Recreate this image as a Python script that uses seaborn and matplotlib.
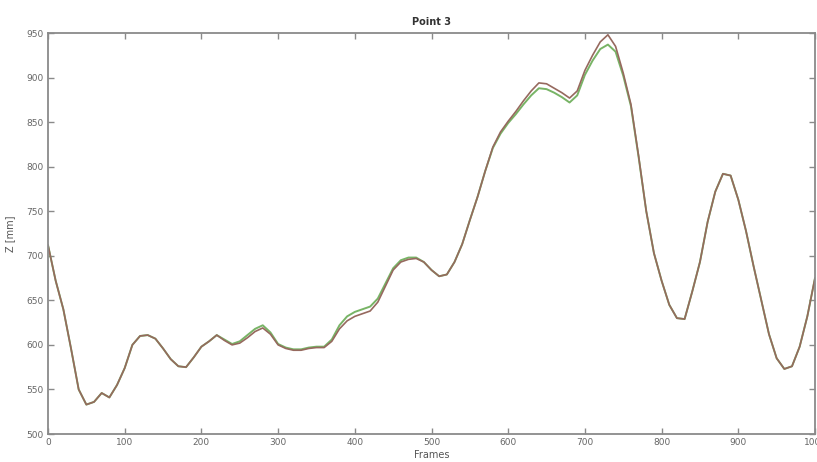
import numpy as np
import pandas as pd
import matplotlib
matplotlib.use("Agg")
import matplotlib.pyplot as plt
import seaborn as sns

# Frame index sampled every 10 frames
frames = list(range(0, 1001, 10))

# Z coordinate of point 3 [mm], first trajectory (red)
z_red = [712, 672, 640, 596, 550, 533, 536, 546, 541, 555,
         574, 600, 610, 611, 607, 596, 584, 576, 575, 586,
         598, 604, 611, 605, 600, 602, 608, 615, 619, 612,
         600, 596, 594, 594, 596, 597, 597, 604, 618, 627,
         632, 635, 638, 648, 666, 684, 693, 696, 697, 693,
         684, 677, 679, 693, 713, 740, 766, 795, 822, 839,
         851, 862, 874, 885, 894, 893, 888, 883, 877, 885,
         908, 925, 940, 948, 935, 905, 870, 812, 750, 703,
         672, 645, 630, 629, 660, 693, 738, 772, 792, 790,
         763, 728, 688, 650, 612, 585, 573, 576, 598, 632,
         675]

# Z coordinate of point 3 [mm], second trajectory (green)
z_green = [712, 672, 640, 596, 550, 533, 536, 546, 541, 555,
           574, 600, 610, 611, 607, 596, 584, 576, 575, 586,
           598, 604, 611, 606, 601, 604, 611, 618, 622, 614,
           601, 597, 595, 595, 597, 598, 598, 606, 622, 632,
           637, 640, 643, 652, 669, 686, 695, 698, 698, 693,
           684, 677, 679, 693, 713, 740, 766, 795, 821, 837,
           849, 859, 870, 880, 888, 887, 883, 878, 872, 880,
           903, 919, 932, 937, 929, 902, 868, 811, 750, 703,
           672, 645, 630, 629, 660, 693, 738, 772, 792, 790,
           763, 728, 688, 650, 612, 585, 573, 576, 598, 632,
           675]

x_ticks = list(range(0, 1001, 100))
y_ticks = list(range(500, 951, 50))

df = pd.DataFrame({"Frames": frames, "red": z_red, "green": z_green})

sns.set_theme(style="white")
plt.rcParams["font.family"] = ["DejaVu Sans"]

fig = plt.figure(figsize=(8.17, 4.62), dpi=100)
ax = fig.add_axes([48 / 817, 1 - 434 / 462, 767 / 817, 401 / 462])

sns.lineplot(data=df, x="Frames", y="green", ax=ax, color="#78b466", lw=1.4)
sns.lineplot(data=df, x="Frames", y="red", ax=ax, color="#96695e", lw=1.2)

ax.set_xlim(0, 1000)
ax.set_ylim(500, 950)
ax.set_xticks(x_ticks)
ax.set_yticks(y_ticks)
ax.set_xticklabels([str(t) for t in x_ticks])
ax.set_yticklabels([str(t) for t in y_ticks])

spine_col = "#8a8a8a"
for s in ax.spines.values():
    s.set_visible(True)
    s.set_color(spine_col)
    s.set_linewidth(1.3)

ax.tick_params(direction="in", length=4, width=1, colors=spine_col,
               labelcolor="#666666", labelsize=6.5, top=True, right=True,
               bottom=True, left=True, pad=3)

ax.set_title("Point 3", fontsize=7, fontweight="bold", color="#333333", pad=6)
ax.set_xlabel("Frames", fontsize=7, color="#555555", labelpad=2)
ax.set_ylabel("Z [mm]", fontsize=7, color="#555555", labelpad=8)

fig.savefig("out.png", dpi=100, facecolor="white")
